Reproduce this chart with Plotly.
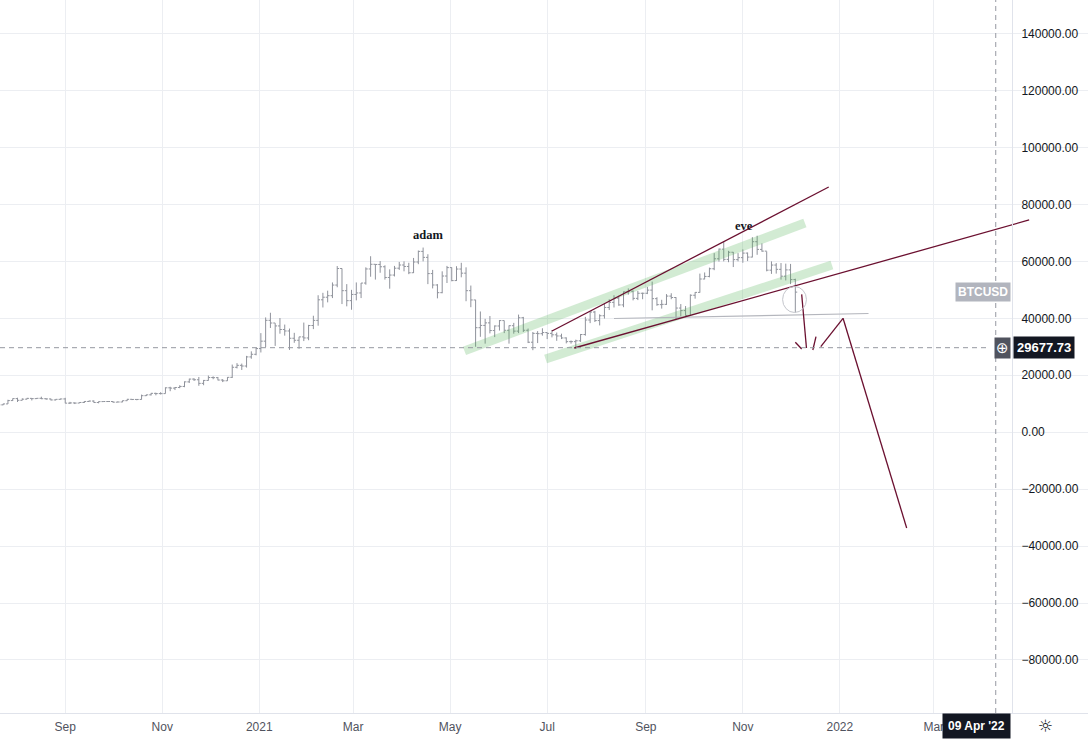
import pandas as pd
import plotly.graph_objects as go

# BTCUSD, one bar per 3 days, 21 Jul 2020 .. 04 Dec 2021
FIRST_BAR = '2020-07-21'
FIRST_OPEN = 9380
closes = [9600, 9930, 11100, 11800, 11200, 11600, 11880, 11780, 11900, 11760,
          11680, 11330, 11540, 11680, 10200, 10280, 10230, 10440, 10790, 10940,
          10420, 10740, 10770, 10780, 10550, 10600, 11060, 11550, 11500, 11500,
          12820, 13120, 13650, 13560, 13550, 15590, 15480, 15700, 16070, 17680,
          18650, 18420, 17150, 18180, 19200, 19150, 18320, 18050, 19270, 22800,
          23480, 23240, 26440, 27360, 29370, 31970, 39290, 38350, 37320, 36070,
          35550, 32990, 32280, 33470, 33100, 37470, 39270, 46500, 47400, 47940,
          51680, 57490, 49700, 46200, 48380, 48900, 52380, 57330, 58970, 58910,
          58100, 54340, 55190, 57600, 58720, 58200, 56000, 59770, 63500, 61400,
          55700, 51700, 49000, 54850, 57800, 53250, 57300, 55850, 49700, 46450,
          36700, 37500, 38400, 35700, 37300, 39200, 35800, 37400, 35500, 40200,
          35800, 31600, 34700, 34600, 35000, 34700, 34200, 33800, 33100, 31800,
          31800, 32100, 34300, 39400, 42200, 39200, 40900, 43800, 45600, 47100,
          44700, 49300, 49500, 47000, 48800, 48800, 49900, 46900, 44800, 44900,
          47800, 47300, 43600, 42700, 41000, 48100, 49100, 53800, 54700, 57400,
          60900, 64300, 60700, 63200, 60600, 61300, 62900, 61500, 66900, 64200,
          63600, 56900, 58700, 57200, 54800, 57000, 53600, 49200]
highs = [9680, 10000, 11400, 11850, 12100, 11900, 12050, 11950, 12000, 12470,
         11900, 11800, 11550, 11800, 12080, 10650, 10450, 10500, 10900, 11100,
         11180, 10800, 10780, 10950, 10900, 10800, 11100, 11700, 11560, 11550,
         13200, 13200, 13800, 13850, 14050, 15750, 15950, 15850, 16480, 17850,
         18800, 18950, 19400, 18350, 19900, 19600, 19400, 18650, 19350, 23750,
         24250, 24100, 26800, 28400, 29600, 34800, 40300, 41950, 38300, 40100,
         37800, 36400, 34900, 33500, 38500, 37700, 40900, 48100, 48950, 49700,
         52600, 58350, 57500, 52000, 50000, 52600, 52400, 57900, 61800, 59000,
         60100, 58600, 57200, 58400, 59800, 60000, 59500, 61200, 63800, 64850,
         62500, 57000, 52000, 56500, 58400, 57900, 58300, 59500, 57900, 51500,
         46500, 42400, 39800, 40800, 37500, 39400, 39200, 37500, 38400, 41300,
         40500, 36400, 35200, 35500, 36500, 35000, 35900, 35000, 34600, 33300,
         32200, 32500, 34500, 40500, 42300, 42600, 41400, 45300, 46700, 48100,
         47900, 49400, 50500, 49800, 49600, 49000, 51000, 52900, 47400, 46500,
         48500, 48800, 47400, 45000, 44300, 48400, 49200, 55700, 56100, 57800,
         62900, 64500, 67000, 63700, 63300, 62900, 64200, 63100, 68500, 69000,
         66300, 63500, 60000, 59400, 59400, 59200, 59100, 53900]
lows = [9300, 9500, 9900, 10950, 10600, 11200, 11550, 11150, 11700, 11600,
        11400, 11150, 11150, 11450, 10150, 9900, 9880, 10220, 10250, 10700,
        10350, 10150, 10600, 10650, 10400, 10530, 10540, 11050, 11280, 11220,
        11450, 12700, 12900, 12950, 13250, 13550, 14400, 14800, 15450, 15800,
        17300, 18000, 16300, 16500, 18100, 18600, 18200, 17600, 18000, 19050,
        22400, 21850, 22700, 25800, 27000, 28000, 29900, 36600, 30300, 34600,
        33900, 28900, 31400, 29300, 32000, 32300, 36200, 37400, 43800, 45600,
        47100, 50900, 45000, 44200, 43000, 46300, 47100, 51800, 54600, 53600,
        56000, 53600, 50400, 54700, 57000, 56500, 55500, 55900, 59000, 60000,
        52000, 50500, 47000, 48800, 52400, 53000, 53100, 54400, 46000, 43900,
        30000, 33500, 31100, 34700, 33400, 35700, 34800, 31100, 34600, 34800,
        35200, 31300, 28800, 31300, 33900, 32700, 33300, 32100, 32700, 31200,
        31100, 29300, 31700, 33900, 38300, 38700, 37500, 39900, 42900, 43800,
        44400, 43900, 48300, 46300, 46400, 46700, 48500, 42800, 44400, 43400,
        44700, 46700, 39600, 40700, 40900, 40800, 46900, 49000, 53700, 54400,
        56900, 59900, 60000, 59700, 58000, 60000, 59500, 60100, 61400, 62300,
        63400, 56500, 55600, 55700, 53600, 53300, 52000, 42000]

# hand drawn objects on the chart (date, price)
wedge_top_x = ['2021-07-04', '2021-12-25']
wedge_top_y = [35540, 86120]
support_x = ['2021-07-18', '2022-04-30']
support_y = [29570, 74530]
band_top_x = ['2021-05-10', '2021-12-10']
band_top_y = [28550, 73470]
band_low_x = ['2021-06-30', '2021-12-27']
band_low_y = [25710, 58720]
level_x = ['2021-08-12', '2022-01-19']
level_y = [39930, 41690]
ring_x = ['2021-11-26', '2021-12-11']
ring_y = [42040, 51170]
path_segments = [
    (['2021-12-08', '2021-12-11'], [48410, 29570]),
    (['2021-12-04', '2021-12-08'], [31570, 29220]),
    (['2021-12-17', '2021-12-15'], [33540, 28870]),
    (['2021-12-20', '2022-01-03'], [30030, 40000]),
    (['2022-01-03', '2022-02-12'], [40000, -33650]),
]
note_text = ['adam', 'eve']
note_x = ['2021-04-17', '2021-11-02']
note_y = [69260, 72420]

CROSS_DATE = '2022-04-09'
CROSS_PRICE = 29677.73

price_ticks = list(range(-80000, 140001, 20000))
month_ticks = ['2020-09-01', '2020-11-01', '2021-01-01', '2021-03-01', '2021-05-01',
               '2021-07-01', '2021-09-01', '2021-11-01', '2022-01-01', '2022-03-01']
month_text = ['Sep', 'Nov', '2021', 'Mar', 'May', 'Jul', 'Sep', 'Nov', '2022', 'Mar']

FONT = 'Liberation Sans, Arial'
BAR = '#8f929b'
RED = '#6b1030'
AXIS_X = 1012 / 1088

dates = pd.date_range(FIRST_BAR, periods=len(closes), freq='3D')
opens = [FIRST_OPEN] + closes[:-1]

fig = go.Figure()
for bx, by in [(band_top_x, band_top_y), (band_low_x, band_low_y)]:
    fig.add_trace(go.Scatter(x=bx, y=by, mode='lines', hoverinfo='skip',
                             line=dict(color='rgba(76,175,80,0.25)', width=9)))
fig.add_trace(go.Ohlc(x=dates, open=opens, high=highs, low=lows, close=closes,
                      increasing_line_color=BAR, decreasing_line_color=BAR,
                      line_width=1, tickwidth=0.4, hoverinfo='skip'))
fig.add_trace(go.Scatter(x=level_x, y=level_y, mode='lines', hoverinfo='skip',
                         line=dict(color='#b4b6bd', width=1.2)))
for sx, sy in [(wedge_top_x, wedge_top_y), (support_x, support_y)] + path_segments:
    fig.add_trace(go.Scatter(x=sx, y=sy, mode='lines', hoverinfo='skip',
                             line=dict(color=RED, width=1.3)))

# ring round the last candle
fig.add_shape(type='circle', xref='x', yref='y', x0=ring_x[0], x1=ring_x[1],
              y0=ring_y[0], y1=ring_y[1], line=dict(color='#c4c6cc', width=1))
# blank price scale area
fig.add_shape(type='rect', xref='paper', yref='paper', x0=AXIS_X, x1=1, y0=0, y1=1,
              fillcolor='white', line_width=0, layer='between')
# crosshair
fig.add_shape(type='line', xref='paper', yref='y', x0=0, x1=990 / 1088,
              y0=CROSS_PRICE, y1=CROSS_PRICE,
              line=dict(color='#9598a1', width=1, dash='5px,4px'))
fig.add_shape(type='line', xref='x', yref='paper', x0=CROSS_DATE, x1=CROSS_DATE,
              y0=0, y1=1, line=dict(color='#9598a1', width=1, dash='5px,4px'))

for t, nx, ny in zip(note_text, note_x, note_y):
    fig.add_annotation(x=nx, y=ny, text='<b>' + t + '</b>', showarrow=False,
                       font=dict(family='Liberation Serif', size=12.5, color='#131722'))

fig.add_annotation(xref='paper', x=1011 / 1088, xanchor='right', y=closes[-1],
                   text='<b>BTCUSD</b>', showarrow=False, bgcolor='#b2b5be',
                   borderpad=2, font=dict(family=FONT, size=12, color='white'))
fig.add_annotation(xref='paper', x=1013 / 1088, xanchor='left', y=CROSS_PRICE,
                   text='<b>%.2f</b>' % CROSS_PRICE, showarrow=False, bgcolor='#131722',
                   borderpad=3, font=dict(family=FONT, size=13, color='white'))
fig.add_annotation(xref='paper', x=1011 / 1088, xanchor='right', y=CROSS_PRICE,
                   text='⊕', showarrow=False, bgcolor='#50535e', borderpad=1,
                   font=dict(family='DejaVu Sans', size=15, color='white'))
fig.add_annotation(xref='paper', yref='paper', x=1011 / 1088, xanchor='right', y=0,
                   yanchor='top', text="<b>09 Apr '22</b>", showarrow=False,
                   bgcolor='#131722', borderpad=5,
                   font=dict(family=FONT, size=12, color='white'))
fig.add_annotation(xref='paper', yref='paper', x=1055 / 1088, y=-0.018, yanchor='middle',
                   text='☼', showarrow=False,
                   font=dict(family='DejaVu Sans', size=17, color='#131722'))

fig.update_layout(
    width=1088, height=739,
    margin=dict(l=0, r=0, t=0, b=26),
    paper_bgcolor='white', plot_bgcolor='white',
    showlegend=False,
    xaxis=dict(domain=[0, 1], range=['2020-07-22', '2022-06-06'],
               rangeslider=dict(visible=False),
               tickvals=month_ticks, ticktext=month_text,
               ticks='outside', ticklen=3, tickcolor='rgba(0,0,0,0)',
               tickfont=dict(family=FONT, size=12, color='#50535e'),
               showgrid=True, gridcolor='#eceef2', zeroline=False,
               showline=True, linecolor='#e0e3eb', linewidth=1, mirror=False),
    yaxis=dict(anchor='free', position=AXIS_X, side='right',
               range=[-98620, 151790], tickvals=price_ticks, tickformat='.2f',
               ticks='outside', ticklen=6, tickcolor='rgba(0,0,0,0)',
               tickfont=dict(family=FONT, size=12, color='#131722'),
               showgrid=True, gridcolor='#eceef2', zeroline=False,
               showline=True, linecolor='#e0e3eb', linewidth=1),
)

# the page body has a default 8px margin; drop it so the chart fills the window
fig.write_html('out.html', config={'displayModeBar': False},
               post_script="document.body.style.margin='0px';")
